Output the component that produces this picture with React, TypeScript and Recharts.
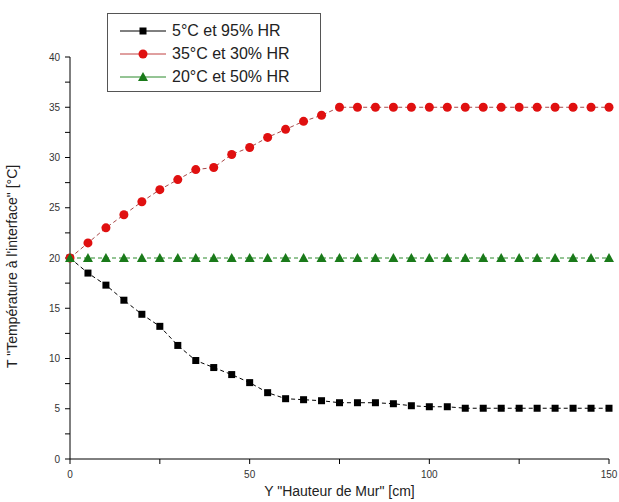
import React from 'react'
import { LineChart, Line, XAxis, YAxis } from 'recharts'

// Y "Hauteur de Mur" [cm]
const hauteurs = [0, 5, 10, 15, 20, 25, 30, 35, 40, 45, 50, 55, 60, 65, 70, 75, 80, 85, 90, 95, 100, 105, 110, 115, 120, 125, 130, 135, 140, 145, 150]

const froidHumide = [20, 18.5, 17.3, 15.8, 14.4, 13.2, 11.3, 9.8, 9.1, 8.4, 7.6, 6.6, 6.0, 5.9, 5.8, 5.6, 5.6, 5.6, 5.5, 5.3, 5.2, 5.2, 5.05, 5.05, 5.05, 5.05, 5.05, 5.05, 5.05, 5.05, 5.05]
const chaudSec = [20, 21.5, 23, 24.3, 25.6, 26.8, 27.8, 28.8, 29.0, 30.3, 31.0, 32.0, 32.8, 33.6, 34.2, 35, 35, 35, 35, 35, 35, 35, 35, 35, 35, 35, 35, 35, 35, 35, 35]
const tempere = [20, 20, 20, 20, 20, 20, 20, 20, 20, 20, 20, 20, 20, 20, 20, 20, 20, 20, 20, 20, 20, 20, 20, 20, 20, 20, 20, 20, 20, 20, 20]

const xTicks = [0, 25, 50, 75, 100, 125, 150]
const yTicks = [0, 2.5, 5, 7.5, 10, 12.5, 15, 17.5, 20, 22.5, 25, 27.5, 30, 32.5, 35, 37.5, 40]

const seriesNames = ['5°C et 95% HR', '35°C et 30% HR', '20°C et 50% HR']

const data = hauteurs.map((h, i) => ({
  h,
  a: froidHumide[i],
  b: chaudSec[i],
  c: tempere[i],
}))

const FONT = '"Liberation Sans", Arial, sans-serif'

const Square = (props: any) => {
  const { cx, cy } = props
  if (cx == null || cy == null) return null
  return <rect x={cx - 3.5} y={cy - 3.5} width={7} height={7} fill="#000" />
}

const Circle = (props: any) => {
  const { cx, cy } = props
  if (cx == null || cy == null) return null
  return <circle cx={cx} cy={cy} r={4.5} fill="#e01010" />
}

const Triangle = (props: any) => {
  const { cx, cy } = props
  if (cx == null || cy == null) return null
  return <polygon points={`${cx},${cy - 5} ${cx - 5},${cy + 4} ${cx + 5},${cy + 4}`} fill="#1a7a1a" />
}

const XTick = (props: any) => {
  const { x, y, payload } = props
  if (payload.value % 50 !== 0) return null
  return (
    <text x={x} y={y + 12} textAnchor="middle" fontSize={10} fill="#333" fontFamily={FONT}>
      {payload.value}
    </text>
  )
}

const YTick = (props: any) => {
  const { x, y, payload } = props
  if (payload.value % 5 !== 0) return null
  return (
    <text x={x - 3} y={y + 3.5} textAnchor="end" fontSize={10} fill="#333" fontFamily={FONT}>
      {payload.value}
    </text>
  )
}

const LegendBox = () => {
  const rows = [
    { name: seriesNames[0], line: '#000', marker: <rect x={19.5} y={-3.5} width={7} height={7} fill="#000" /> },
    { name: seriesNames[1], line: '#c04040', marker: <circle cx={23} cy={0} r={4.5} fill="#e01010" /> },
    { name: seriesNames[2], line: '#2a8a2a', marker: <polygon points="23,-5 18,4 28,4" fill="#1a7a1a" /> },
  ]
  return (
    <div style={{ position: 'absolute', left: 107, top: 13, border: '1px solid #555', background: '#fff', width: 212, height: 77 }}>
      {rows.map((r, i) => (
        <div key={i} style={{ display: 'flex', alignItems: 'center', height: 23, marginTop: i === 0 ? 5 : 0, paddingLeft: 12 }}>
          <svg width={48} height={14} viewBox="0 -7 48 14" style={{ overflow: 'visible' }}>
            <line x1={0} y1={0} x2={46} y2={0} stroke={r.line} strokeWidth={1} />
            {r.marker}
          </svg>
          <span style={{ fontFamily: FONT, fontSize: 16, color: '#222', marginLeft: 4 }}>{r.name}</span>
        </div>
      ))}
    </div>
  )
}

export default function App() {
  return (
    <div style={{ position: 'absolute', left: 0, top: 0, width: 619, height: 502, background: '#fff' }}>
      <LineChart width={619} height={502} data={data} margin={{ top: 57, right: 10, left: 30, bottom: 13 }}>
        <XAxis
          dataKey="h"
          type="number"
          domain={[0, 150]}
          ticks={xTicks}
          tick={<XTick />}
          interval={0}
          axisLine={{ stroke: '#000' }}
          tickLine={{ stroke: '#000' }}
          tickSize={5}
          height={30}
          label={{ value: 'Y "Hauteur de Mur" [cm]', position: 'insideBottom', offset: -7, fontSize: 14, fill: '#222', fontFamily: FONT }}
        />
        <YAxis
          type="number"
          domain={[0, 40]}
          ticks={yTicks}
          tick={<YTick />}
          interval={0}
          axisLine={{ stroke: '#000' }}
          tickLine={{ stroke: '#000' }}
          tickSize={5}
          width={40}
          label={{ value: 'T "Température à l\'interface" [°C]', angle: -90, position: 'insideLeft', offset: -18, dy: 110, fontSize: 14, fill: '#222', fontFamily: FONT }}
        />
        <Line dataKey="a" name={seriesNames[0]} stroke="#000" strokeWidth={1} strokeDasharray="4 3" dot={<Square />} activeDot={false} isAnimationActive={false} />
        <Line dataKey="b" name={seriesNames[1]} stroke="#a84848" strokeWidth={1} strokeDasharray="4 3" dot={<Circle />} activeDot={false} isAnimationActive={false} />
        <Line dataKey="c" name={seriesNames[2]} stroke="#2a8a2a" strokeWidth={1} strokeDasharray="4 3" dot={<Triangle />} activeDot={false} isAnimationActive={false} />
      </LineChart>
      <LegendBox />
    </div>
  )
}
